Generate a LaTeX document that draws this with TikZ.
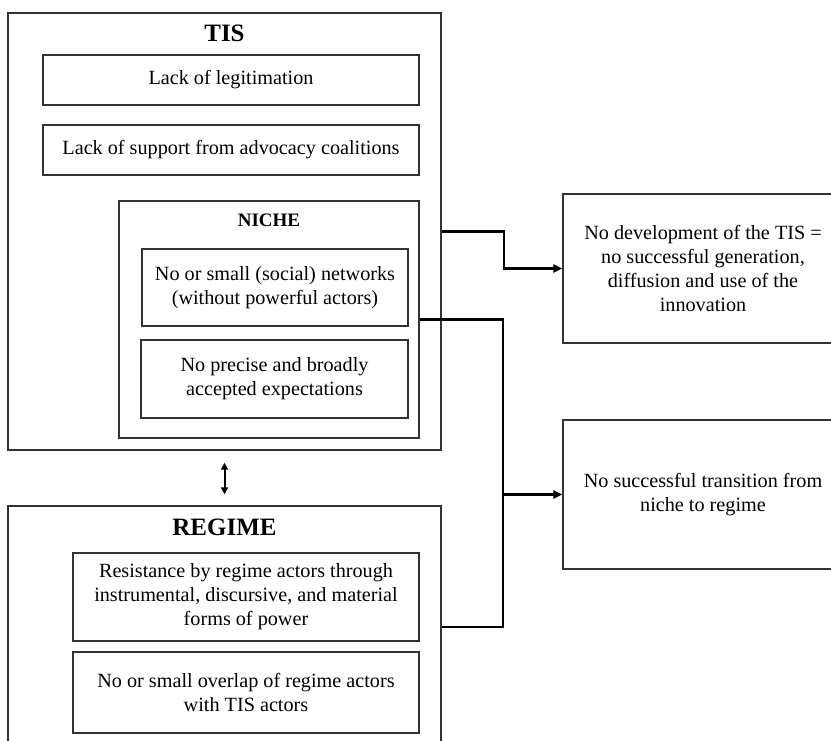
\documentclass[tikz,border=0pt]{standalone}
\usepackage{fontspec}
\setmainfont{Liberation Serif}
\usetikzlibrary{arrows.meta,calc}
\definecolor{boxgray}{HTML}{333333}
\begin{document}
\begin{tikzpicture}[x=1pt,y=-1pt,
  box/.style={draw=boxgray, line width=1.4pt, inner sep=0pt, align=center,
    font=\fontsize{20.2}{24}\selectfont},
  ttl/.style={font=\bfseries\fontsize{25}{30}\selectfont, inner sep=0pt},
  subttl/.style={font=\bfseries\fontsize{19}{23}\selectfont, inner sep=0pt},
  conn/.style={line width=2.2pt, draw=black},
  arr/.style={conn, -{Triangle[length=9pt,width=8pt]}},
  dbl/.style={line width=2pt, {Triangle[length=7pt,width=7pt]}-{Triangle[length=7pt,width=7pt]}}
]
\useasboundingbox (0,0) rectangle (831,741);
\clip (0,0) rectangle (831,741);
\fill[white] (0,0) rectangle (831,741);

% TIS
\node[box, minimum width=433pt, minimum height=437pt] (tis) at (224.5,231.5) {};
\node[ttl] (tistitle) at (224.5,33.5) {TIS};
\node[box, minimum width=376pt, minimum height=50pt] (legit) at (231,80) {Lack of legitimation};
\node[box, minimum width=376pt, minimum height=50pt] (support) at (231,150) {Lack of support from advocacy coalitions};

% NICHE
\node[box, minimum width=300pt, minimum height=237pt] (niche) at (269,319.5) {};
\node[subttl] (nichetitle) at (269,220) {NICHE};
\node[box, minimum width=266pt, minimum height=77pt] (networks) at (275,287.5)
  {No or small (social) networks\\(without powerful actors)};
\node[box, minimum width=267pt, minimum height=78pt] (expect) at (274.5,379)
  {No precise and broadly\\accepted expectations};

% REGIME
\node[box, minimum width=433pt, minimum height=242pt] (regime) at (224.5,627) {};
\node[ttl] (regtitle) at (224.5,527) {REGIME};
\node[box, minimum width=346pt, minimum height=88pt] (resist) at (246,597)
  {Resistance by regime actors through\\instrumental, discursive, and material\\forms of power};
\node[box, minimum width=346pt, minimum height=81pt] (overlap) at (246,692.5)
  {No or small overlap of regime actors\\with TIS actors};

% Outcomes
\node[box, minimum width=280pt, minimum height=149pt] (out1) at (703,268.5)
  {No development of the TIS =\\no successful generation,\\diffusion and use of the\\innovation};
\node[box, minimum width=280pt, minimum height=149pt] (out2) at (703,494.5)
  {No successful transition from\\niche to regime};

% Connectors
\draw[arr] (tis.east) -- ++(62,0) |- (out1.west);
\coordinate (jt) at (503,319.5);
\coordinate (jb) at (503,627);
\draw[conn] (niche.east) -- (jt) -- (jb) -- (regime.east);
\draw[arr] (jt |- out2.west) -- (out2.west);

% TIS <-> REGIME
\draw[dbl] ([yshift=-12pt]tis.south) -- ([yshift=11pt]regime.north);
\end{tikzpicture}
\end{document}
